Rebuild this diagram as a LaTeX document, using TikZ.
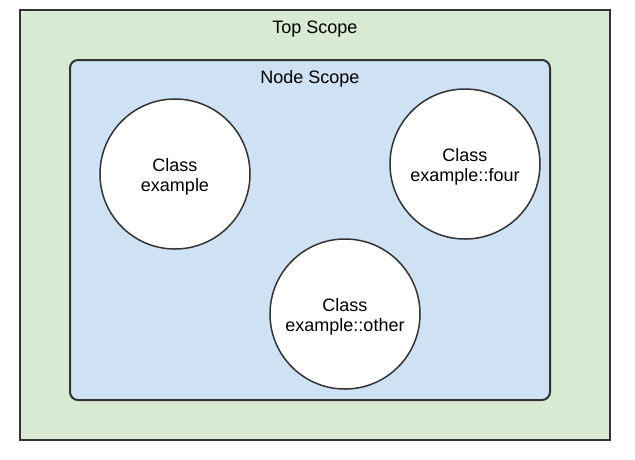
\documentclass[tikz,border=0pt]{standalone}
\usepackage{fontspec}
\setmainfont{Liberation Sans}
\definecolor{topgreen}{HTML}{D9EAD3}
\definecolor{nodeblue}{HTML}{CFE2F3}
\definecolor{edge}{HTML}{333333}
\begin{document}
\begin{tikzpicture}[x=1pt,y=-1pt,
  scopebox/.style={draw=edge,line width=2pt},
  classnode/.style={circle,draw=edge,line width=1.5pt,fill=white,minimum size=150pt,inner sep=0pt},
  classtext/.style={font=\fontsize{18}{20}\selectfont,align=center,inner sep=0pt,yshift=-3pt},
  lbl/.style={font=\fontsize{18}{20}\selectfont,inner sep=0pt}]
\useasboundingbox (0,0) rectangle (635,459);
\fill[white] (0,0) rectangle (635,459);
\draw[scopebox,fill=topgreen] (20,10) rectangle (610,440);
\draw[scopebox,fill=nodeblue,rounded corners=8pt] (70,60) rectangle (550,400);
\node[lbl] (top) at (315,29) {Top Scope};
\node[lbl] (ns) at (310,79) {Node Scope};
\node[classnode,label={[classtext]center:Class\\example}] (ex) at (175,174) {};
\node[classnode,label={[classtext]center:Class\\example::four}] (four) at (465,164) {};
\node[classnode,label={[classtext]center:Class\\example::other}] (other) at (345,314) {};
\end{tikzpicture}
\end{document}
